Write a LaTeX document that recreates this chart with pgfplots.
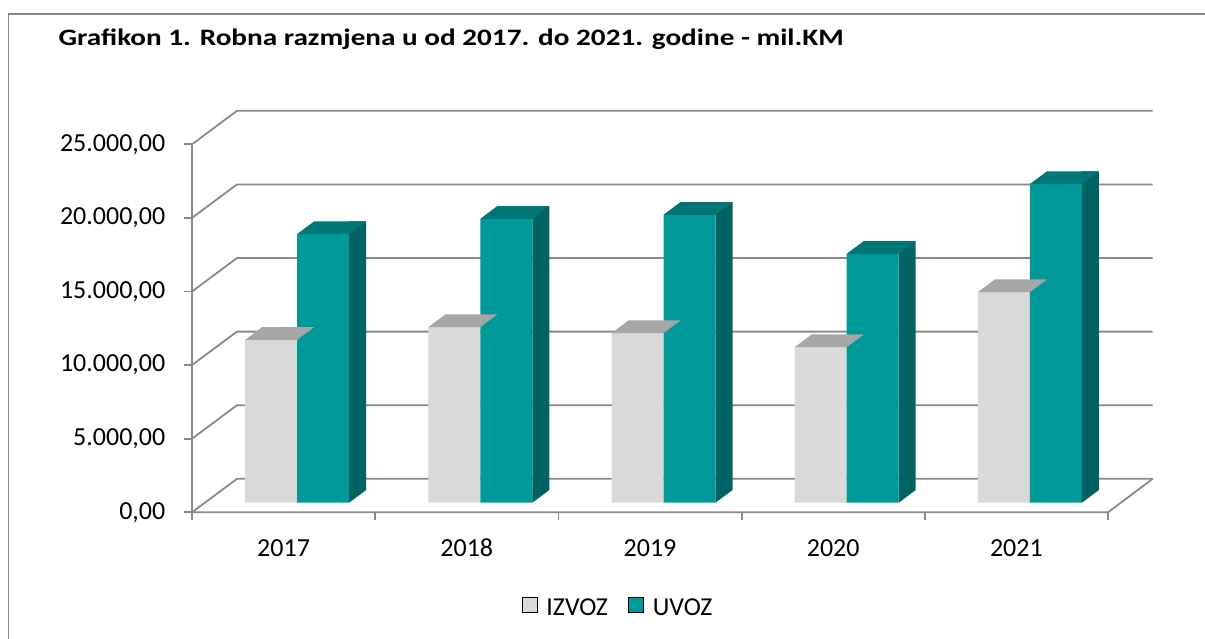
\documentclass[border=0pt]{standalone}
\usepackage{graphicx}
\usepackage{pgfplots}
\pgfplotsset{compat=1.18}
\usepackage{pgfplotstable}
\usepackage{fontspec}
\setmainfont{Carlito}
\definecolor{izvf}{RGB}{217,217,217}
\definecolor{izvt}{RGB}{166,166,166}
\definecolor{uvf}{RGB}{0,153,153}
\definecolor{uvt}{RGB}{0,118,118}
\definecolor{uvs}{RGB}{0,99,99}
\definecolor{gridc}{RGB}{137,137,137}
\definecolor{borderc}{RGB}{134,134,134}

\pgfplotstableread{
x izvoz uvoz
0 11062 18249
1 11925 19289
2 11517 19561
3 10566 16909
4 14305 21648
}\data

% top face of IZVOZ bar (mark placed at category centre, bar value)
\pgfdeclareplotmark{izvtop}{%
  \pgfpathmoveto{\pgfqpoint{-38.5pt}{9.6pt}}%
  \pgfpathlineto{\pgfqpoint{13.5pt}{9.6pt}}%
  \pgfpathlineto{\pgfqpoint{30.5pt}{22.3pt}}%
  \pgfpathlineto{\pgfqpoint{-21.5pt}{22.3pt}}%
  \pgfpathclose
  \pgfsetfillcolor{izvt}\pgfusepath{fill}}
% top face of UVOZ bar
\pgfdeclareplotmark{uvtop}{%
  \pgfpathmoveto{\pgfqpoint{13.5pt}{9.6pt}}%
  \pgfpathlineto{\pgfqpoint{65.5pt}{9.6pt}}%
  \pgfpathlineto{\pgfqpoint{82.5pt}{22.3pt}}%
  \pgfpathlineto{\pgfqpoint{30.5pt}{22.3pt}}%
  \pgfpathclose
  \pgfsetfillcolor{uvt}\pgfusepath{fill}}
% lower corner of the UVOZ side face (mark placed at category centre, 0)
\pgfdeclareplotmark{uvfoot}{%
  \pgfpathmoveto{\pgfqpoint{65.5pt}{9.6pt}}%
  \pgfpathlineto{\pgfqpoint{82.5pt}{22.3pt}}%
  \pgfpathlineto{\pgfqpoint{65.5pt}{22.3pt}}%
  \pgfpathclose
  \pgfsetfillcolor{uvs}\pgfusepath{fill}}

\begin{document}
\begin{tikzpicture}
\path[use as bounding box] (0,0) rectangle (1205pt,-638pt);
\draw[borderc, line width=1.3pt] (8.3pt,-640pt) -- (8.3pt,-14pt) -- (1206pt,-14pt);
\node[anchor=base west, inner sep=0pt] at (58.3pt,-45pt)
  {\scalebox{1.237}[1]{\fontsize{23.6}{28}\selectfont\bfseries Grafikon 1. Robna razmjena u od 2017. do 2021. godine - mil.KM}};
\begin{axis}[
  at={(192pt,-512.3pt)}, anchor=south west,
  x=183.2pt, y=0.01472pt,
  xmin=-0.5, xmax=4.744, ymin=0, ymax=27296,
  enlargelimits=false, clip=false,
  axis x line*=bottom, axis y line*=left,
  axis line style={draw=none},
  tick align=outside,
  major tick length=7.5pt,
  tick style={draw=gridc, line width=1.8pt},
  xtick={-0.5,0.5,1.5,2.5,3.5,4.5},
  x tick label as interval,
  xticklabels={2017,2018,2019,2020,2021},
  ytick={0,5000,10000,15000,20000,25000},
  scaled y ticks=false,
  /pgf/number format/assume math mode=true,
  yticklabel style={/pgf/number format/fixed, /pgf/number format/fixed zerofill,
    /pgf/number format/precision=2, /pgf/number format/use comma,
    /pgf/number format/1000 sep={.}},
  ticklabel style={font=\fontsize{26}{30}\selectfont, inner sep=0pt},
  yticklabel style={anchor=east, xshift=-19pt},
  xticklabel style={anchor=base, yshift=-36.9pt},
  legend style={at={(0.4434,-0.238)}, anchor=center, draw=none, fill=none,
    font=\fontsize{25.8}{30}\selectfont, legend columns=2,
    /tikz/every odd column/.append style={column sep=7.5pt},
    /tikz/every even column/.append style={column sep=18pt}},
  legend image code/.code={\fill[#1] (0pt,-4pt) rectangle (15pt,11pt);},
]
% walls and gridlines
\draw[gridc, line width=1.8pt] (axis cs:-0.5,0) -- (axis cs:-0.2544,2276) -- (axis cs:4.744,2276);
\draw[gridc, line width=1.8pt] (axis cs:-0.5,5000) -- (axis cs:-0.2544,7276) -- (axis cs:4.744,7276);
\draw[gridc, line width=1.8pt] (axis cs:-0.5,10000) -- (axis cs:-0.2544,12276) -- (axis cs:4.744,12276);
\draw[gridc, line width=1.8pt] (axis cs:-0.5,15000) -- (axis cs:-0.2544,17276) -- (axis cs:4.744,17276);
\draw[gridc, line width=1.8pt] (axis cs:-0.5,20000) -- (axis cs:-0.2544,22276) -- (axis cs:4.744,22276);
\draw[gridc, line width=1.8pt] (axis cs:-0.5,25000) -- (axis cs:-0.2544,27276) -- (axis cs:4.744,27276);
\draw[gridc, line width=1.8pt] (axis cs:-0.5,25000) -- (axis cs:-0.5,0) -- (axis cs:4.5,0) -- (axis cs:4.744,2276);

\addlegendimage{fill=izvf}
\addlegendentry{IZVOZ}
\addlegendimage{fill=uvf}
\addlegendentry{UVOZ}

% IZVOZ: front face, top face
\addplot[ybar, bar width=52pt, bar shift=-12.5pt, yshift=9.6pt, fill=izvf, draw=none, forget plot]
  table[x=x, y=izvoz]{\data};
\addplot[only marks, mark=izvtop, forget plot]
  table[x=x, y=izvoz]{\data};
% UVOZ: side face, front face, top face
\addplot[ybar, bar width=17pt, bar shift=74pt, yshift=22.3pt, fill=uvs, draw=none, forget plot]
  table[x=x, y=uvoz]{\data};
\addplot[only marks, mark=uvfoot, forget plot]
  table[x=x, y expr=0]{\data};
\addplot[ybar, bar width=52pt, bar shift=39.5pt, yshift=9.6pt, fill=uvf, draw=none, forget plot]
  table[x=x, y=uvoz]{\data};
\addplot[only marks, mark=uvtop, forget plot]
  table[x=x, y=uvoz]{\data};
\end{axis}
\end{tikzpicture}
\end{document}
